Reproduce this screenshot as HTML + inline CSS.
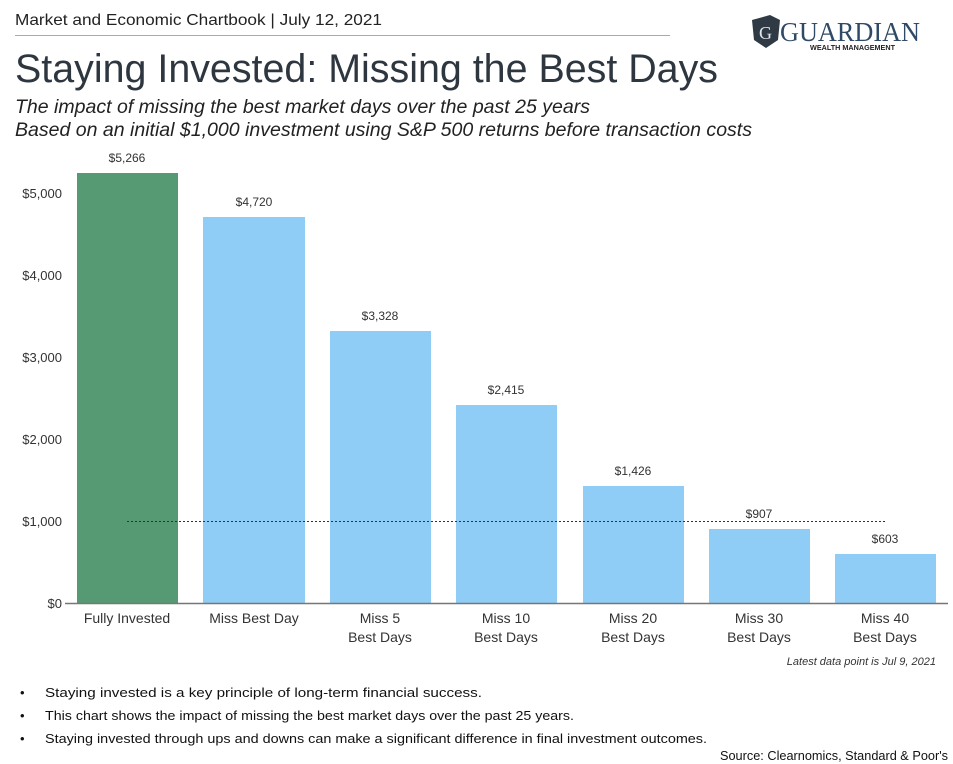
<!DOCTYPE html>
<html><head><meta charset="utf-8"><style>
html,body{margin:0;padding:0;background:#fff;}
svg{display:block;font-family:"Liberation Sans",sans-serif;}
</style></head><body>
<svg width="953" height="764" viewBox="0 0 953 764" xmlns="http://www.w3.org/2000/svg">
<rect width="953" height="764" fill="#fff"/>
<text x="15" y="25" font-size="16" fill="#222" textLength="367" lengthAdjust="spacingAndGlyphs">Market and Economic Chartbook | July 12, 2021</text>
<line x1="15" y1="35.5" x2="670" y2="35.5" stroke="#aaa" stroke-width="1"/>
<!-- logo -->
<path d="M752 20 L770 15 L780 20 L778 40 L766 48 L754 40 Z" fill="#2f3a45"/>
<text x="759" y="39" font-size="18" fill="#dfe6ec" font-family="Liberation Serif,serif">G</text>
<text x="780" y="41" font-size="27" fill="#2f4a66" font-family="Liberation Serif,serif" textLength="140" lengthAdjust="spacingAndGlyphs">GUARDIAN</text>
<text x="810" y="50" font-size="7" font-weight="bold" fill="#222" textLength="85" lengthAdjust="spacingAndGlyphs">WEALTH MANAGEMENT</text>
<text x="15" y="82" font-size="40" fill="#2e3640" textLength="703" lengthAdjust="spacingAndGlyphs">Staying Invested: Missing the Best Days</text>
<text x="15" y="113" font-size="19" font-style="italic" fill="#222" textLength="575" lengthAdjust="spacingAndGlyphs">The impact of missing the best market days over the past 25 years</text>
<text x="15" y="136" font-size="19" font-style="italic" fill="#222" textLength="737" lengthAdjust="spacingAndGlyphs">Based on an initial $1,000 investment using S&amp;P 500 returns before transaction costs</text>
<g font-size="13" fill="#333" text-anchor="end">
<text x="62" y="198">$5,000</text>
<text x="62" y="280">$4,000</text>
<text x="62" y="362">$3,000</text>
<text x="62" y="444">$2,000</text>
<text x="62" y="526">$1,000</text>
<text x="62" y="608">$0</text>
</g>
<rect x="77" y="173" width="101" height="430" fill="#559a72"/>
<rect x="203" y="217" width="102" height="386" fill="#90cdf6"/>
<rect x="330" y="331" width="101" height="272" fill="#90cdf6"/>
<rect x="456" y="405" width="101" height="198" fill="#90cdf6"/>
<rect x="583" y="486" width="101" height="117" fill="#90cdf6"/>
<rect x="709" y="529" width="101" height="74" fill="#90cdf6"/>
<rect x="835" y="554" width="101" height="49" fill="#90cdf6"/>
<line x1="65" y1="603.5" x2="948" y2="603.5" stroke="#777" stroke-width="1.5"/>
<line x1="127" y1="521.5" x2="887" y2="521.5" stroke="#333" stroke-width="1" stroke-dasharray="2,2"/>
<g font-size="12" fill="#333" text-anchor="middle">
<text x="127" y="162">$5,266</text>
<text x="254" y="206">$4,720</text>
<text x="380" y="320">$3,328</text>
<text x="506" y="394">$2,415</text>
<text x="633" y="475">$1,426</text>
<text x="759" y="518">$907</text>
<text x="885" y="543">$603</text>
</g>
<g font-size="14" fill="#333" text-anchor="middle">
<text x="127" y="623">Fully Invested</text>
<text x="254" y="623">Miss Best Day</text>
<text x="380" y="623">Miss 5</text><text x="380" y="642">Best Days</text>
<text x="506" y="623">Miss 10</text><text x="506" y="642">Best Days</text>
<text x="633" y="623">Miss 20</text><text x="633" y="642">Best Days</text>
<text x="759" y="623">Miss 30</text><text x="759" y="642">Best Days</text>
<text x="885" y="623">Miss 40</text><text x="885" y="642">Best Days</text>
</g>
<text x="936" y="665" font-size="11" font-style="italic" fill="#333" text-anchor="end">Latest data point is Jul 9, 2021</text>
<g font-size="13" fill="#111">
<text x="20" y="697">•</text><text x="45" y="697" textLength="437" lengthAdjust="spacingAndGlyphs">Staying invested is a key principle of long-term financial success.</text>
<text x="20" y="720">•</text><text x="45" y="720" textLength="529" lengthAdjust="spacingAndGlyphs">This chart shows the impact of missing the best market days over the past 25 years.</text>
<text x="20" y="743">•</text><text x="45" y="743" textLength="662" lengthAdjust="spacingAndGlyphs">Staying invested through ups and downs can make a significant difference in final investment outcomes.</text>
<text x="948" y="760" text-anchor="end" textLength="228" lengthAdjust="spacingAndGlyphs">Source: Clearnomics, Standard &amp; Poor's</text>
</g>
</svg>
</body></html>
